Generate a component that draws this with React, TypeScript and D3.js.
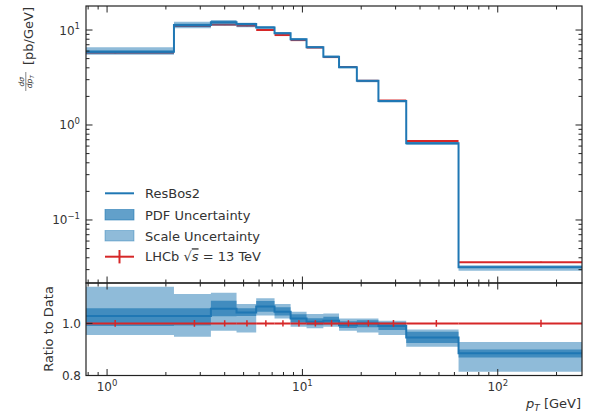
import React from "react";
import * as d3 from "d3";

// ---- data ----
const binEdges = [0, 2.2, 3.4, 4.6, 5.8, 7.2, 8.7, 10.5, 12.8, 15.4, 19.0, 24.5, 34.0, 63.0, 270.0];
const lhcbData = [5.76, 11.0, 11.4, 11.1, 10.0, 8.85, 7.83, 6.54, 5.19, 4.08, 2.92, 1.81, 0.679, 0.0359];
const lhcbRelErr = [0.013, 0.013, 0.012, 0.012, 0.012, 0.012, 0.012, 0.012, 0.012, 0.012, 0.012, 0.013, 0.013, 0.014];
const ratioCentral = [1.028, 1.028, 1.056, 1.042, 1.065, 1.045, 1.019, 1.006, 1.010, 0.993, 1.000, 0.990, 0.946, 0.885];
const pdfLo = [0.990, 0.992, 1.027, 1.028, 1.045, 1.030, 1.003, 0.993, 0.996, 0.982, 0.985, 0.975, 0.925, 0.869];
const pdfHi = [1.058, 1.058, 1.087, 1.058, 1.086, 1.062, 1.035, 1.020, 1.025, 1.008, 1.012, 1.003, 0.968, 0.900];
const scaleLo = [0.955, 0.949, 0.972, 0.965, 1.030, 1.019, 0.987, 0.981, 0.987, 0.972, 0.965, 0.955, 0.910, 0.814];
const scaleHi = [1.141, 1.113, 1.118, 1.074, 1.096, 1.074, 1.045, 1.036, 1.038, 1.019, 1.019, 1.010, 0.977, 0.929];

const xDomain = [0.78, 270];
const yTopDomain = [0.0217, 17.9];
const yRatioDomain = [0.8, 1.155];
const yTopMajor = [0.1, 1, 10];
const yTopMajorExp = ["\u22121", "0", "1"];
const xMajor = [1, 10, 100];
const xMajorExp = ["0", "1", "2"];
const yRatioMajor = [0.8, 1.0];
const yRatioLabels = ["0.8", "1.0"];

const legendItems = ["ResBos2", "PDF Uncertainty", "Scale Uncertainty"];

const BLUE = "#1f77b4";
const RED = "#d62728";
const AX = "#222";
const TXT = "#333";
const FONT = "DejaVu Sans, sans-serif";

export default function App() {
  const L = 86, R = 582, T1 = 6, B1 = 283, T2 = 283, B2 = 375.5;
  const x = d3.scaleLog().domain(xDomain).range([L, R]);
  const yT = d3.scaleLog().domain(yTopDomain).range([B1, T1]);
  const yR = d3.scaleLinear().domain(yRatioDomain).range([B2, T2]);
  const n = lhcbData.length;
  const edgeX = (e: number) => x(Math.max(e, xDomain[0] * 0.5));

  // step points
  const stepPts = (vals: number[]) => {
    const pts: [number, number][] = [];
    for (let i = 0; i < n; i++) pts.push([binEdges[i], vals[i]]);
    pts.push([binEdges[n], vals[n - 1]]);
    return pts;
  };
  const idx = d3.range(n + 1);
  const lineTop = (vals: number[]) =>
    d3.line<[number, number]>().x((d) => edgeX(d[0])).y((d) => yT(d[1])).curve(d3.curveStepAfter)(stepPts(vals)) || "";
  const lineRat = (vals: number[]) =>
    d3.line<[number, number]>().x((d) => edgeX(d[0])).y((d) => yR(d[1])).curve(d3.curveStepAfter)(stepPts(vals)) || "";
  const areaGen = (lo: number[], hi: number[], ys: (v: number) => number) =>
    d3
      .area<number>()
      .x((i) => edgeX(binEdges[i]))
      .y0((i) => ys(lo[Math.min(i, n - 1)]))
      .y1((i) => ys(hi[Math.min(i, n - 1)]))
      .curve(d3.curveStepAfter)(idx) || "";

  const theory = lhcbData.map((d, i) => d * ratioCentral[i]);
  const tPdfLo = lhcbData.map((d, i) => d * pdfLo[i]);
  const tPdfHi = lhcbData.map((d, i) => d * pdfHi[i]);
  const tScLo = lhcbData.map((d, i) => d * scaleLo[i]);
  const tScHi = lhcbData.map((d, i) => d * scaleHi[i]);
  const centers = d3.range(n).map((i) => (binEdges[i] + binEdges[i + 1]) / 2);

  // minor ticks
  const xMinor: number[] = [];
  for (let k = -1; k <= 2; k++) for (let m = 2; m <= 9; m++) {
    const v = m * Math.pow(10, k);
    if (v >= xDomain[0] && v <= xDomain[1]) xMinor.push(v);
  }
  const yMinor: number[] = [];
  for (let k = -2; k <= 1; k++) for (let m = 2; m <= 9; m++) {
    const v = m * Math.pow(10, k);
    if (v >= yTopDomain[0] && v <= yTopDomain[1]) yMinor.push(v);
  }
  const MAJ = 6.5, MIN = 3.5;

  return (
    <svg width={592} height={417} style={{ display: "block", position: "absolute", left: 0, top: 0 }} fontFamily={FONT}>
      <defs>
        <clipPath id="clipTop"><rect x={L} y={T1} width={R - L} height={B1 - T1} /></clipPath>
        <clipPath id="clipRat"><rect x={L} y={T2} width={R - L} height={B2 - T2} /></clipPath>
      </defs>

      {/* ---- top panel ---- */}
      <g clipPath="url(#clipTop)">
        {d3.range(n).map((i) => (
          <g key={"dt" + i} stroke={RED} strokeWidth={2}>
            <line x1={edgeX(binEdges[i])} x2={edgeX(binEdges[i + 1])} y1={yT(lhcbData[i])} y2={yT(lhcbData[i])} />
            <line x1={x(centers[i])} x2={x(centers[i])} y1={yT(lhcbData[i] * (1 - lhcbRelErr[i]))} y2={yT(lhcbData[i] * (1 + lhcbRelErr[i]))} />
          </g>
        ))}
        <path d={areaGen(tScLo, tScHi, yT)} fill={BLUE} fillOpacity={0.5} />
        <path d={areaGen(tPdfLo, tPdfHi, yT)} fill={BLUE} fillOpacity={0.7} />
        <path d={lineTop(theory)} fill="none" stroke={BLUE} strokeWidth={2} />
      </g>

      {/* ---- ratio panel ---- */}
      <g clipPath="url(#clipRat)">
        <path d={areaGen(scaleLo, scaleHi, yR)} fill={BLUE} fillOpacity={0.5} />
        <path d={areaGen(pdfLo, pdfHi, yR)} fill={BLUE} fillOpacity={0.7} />
        <path d={lineRat(ratioCentral)} fill="none" stroke={BLUE} strokeWidth={2} />
        {d3.range(n).map((i) => (
          <g key={"dr" + i} stroke={RED} strokeWidth={2}>
            <line x1={edgeX(binEdges[i])} x2={edgeX(binEdges[i + 1])} y1={yR(1)} y2={yR(1)} />
            <line x1={x(centers[i])} x2={x(centers[i])} y1={yR(1 - lhcbRelErr[i])} y2={yR(1 + lhcbRelErr[i])} strokeWidth={1.5} />
          </g>
        ))}
      </g>

      {/* ---- ticks ---- */}
      <g stroke={AX} strokeWidth={1}>
        {/* x ticks, both panels */}
        {xMajor.map((v) => (
          <g key={"xm" + v}>
            <line x1={x(v)} x2={x(v)} y1={T1} y2={T1 + MAJ} />
            <line x1={x(v)} x2={x(v)} y1={B1} y2={B1 - MAJ} />
            <line x1={x(v)} x2={x(v)} y1={T2} y2={T2 + MAJ} />
            <line x1={x(v)} x2={x(v)} y1={B2} y2={B2 - MAJ} />
          </g>
        ))}
        {xMinor.map((v) => (
          <g key={"xn" + v}>
            <line x1={x(v)} x2={x(v)} y1={T1} y2={T1 + MIN} />
            <line x1={x(v)} x2={x(v)} y1={B1} y2={B1 - MIN} />
            <line x1={x(v)} x2={x(v)} y1={T2} y2={T2 + MIN} />
            <line x1={x(v)} x2={x(v)} y1={B2} y2={B2 - MIN} />
          </g>
        ))}
        {yTopMajor.map((v) => (
          <g key={"ym" + v}>
            <line x1={L} x2={L + MAJ} y1={yT(v)} y2={yT(v)} />
            <line x1={R} x2={R - MAJ} y1={yT(v)} y2={yT(v)} />
          </g>
        ))}
        {yMinor.map((v) => (
          <g key={"yn" + v}>
            <line x1={L} x2={L + MIN} y1={yT(v)} y2={yT(v)} />
            <line x1={R} x2={R - MIN} y1={yT(v)} y2={yT(v)} />
          </g>
        ))}
        {yRatioMajor.map((v) => (
          <line key={"yr" + v} x1={L} x2={L + MAJ} y1={yR(v)} y2={yR(v)} />
        ))}
      </g>

      {/* ---- spines ---- */}
      <rect x={L} y={T1} width={R - L} height={B1 - T1} fill="none" stroke={AX} strokeWidth={1.2} />
      <rect x={L} y={T2} width={R - L} height={B2 - T2} fill="none" stroke={AX} strokeWidth={1.2} />

      {/* ---- tick labels ---- */}
      <g fill={TXT} fontSize={12}>
        {yTopMajor.map((v, i) => (
          <text key={"ytl" + v} x={80} y={yT(v) + 4.5} textAnchor="end">
            10<tspan fontSize={8.5} dy={-5.5}>{yTopMajorExp[i]}</tspan>
          </text>
        ))}
        {xMajor.map((v, i) => (
          <text key={"xtl" + v} x={x(v)} y={391} textAnchor="middle">
            10<tspan fontSize={8.5} dy={-5.5}>{xMajorExp[i]}</tspan>
          </text>
        ))}
        {yRatioMajor.map((v, i) => (
          <text key={"yrl" + v} x={81} y={yR(v) + 4.5} textAnchor="end">{yRatioLabels[i]}</text>
        ))}
      </g>

      {/* ---- axis labels ---- */}
      <g fill={TXT}>
        <g transform="translate(29,6) rotate(-90)">
          <text x={-1} y={3.5} fontSize={13} textAnchor="end">[pb/GeV]</text>
          <text x={-75.7} y={-4.6} fontSize={7.5} textAnchor="middle" fontStyle="italic">dσ</text>
          <line x1={-85} x2={-66} y1={-3.2} y2={-3.2} stroke={TXT} strokeWidth={0.6} />
          <text x={-75.7} y={3.4} fontSize={7.5} textAnchor="middle" fontStyle="italic">
            dp<tspan fontSize={5.5} dy={1.5}>T</tspan>
          </text>
        </g>
        <text transform="translate(53,329) rotate(-90)" fontSize={13} textAnchor="middle">Ratio to Data</text>
        <text x={581} y={408} fontSize={13} textAnchor="end">
          <tspan fontStyle="italic">p</tspan>
          <tspan fontSize={9} fontStyle="italic" dy={3}>T</tspan>
          <tspan dy={-3}> [GeV]</tspan>
        </text>
      </g>

      {/* ---- legend ---- */}
      <g fontSize={13} fill={TXT}>
        <line x1={105} x2={134} y1={193.3} y2={193.3} stroke={BLUE} strokeWidth={2} />
        <text x={145} y={198}>{legendItems[0]}</text>
        <rect x={105} y={209.5} width={29} height={10.5} fill={BLUE} fillOpacity={0.7} stroke={BLUE} strokeOpacity={0.7} strokeWidth={0.8} />
        <text x={145} y={219.5}>{legendItems[1]}</text>
        <rect x={105} y={230.5} width={29} height={10.5} fill={BLUE} fillOpacity={0.5} stroke={BLUE} strokeOpacity={0.5} strokeWidth={0.8} />
        <text x={145} y={240.5}>{legendItems[2]}</text>
        <line x1={105} x2={134} y1={256.7} y2={256.7} stroke={RED} strokeWidth={2} />
        <line x1={119.5} x2={119.5} y1={250} y2={263.4} stroke={RED} strokeWidth={2} />
        <text x={145} y={261.3}>
          LHCb √<tspan fontStyle="italic" textDecoration="overline" style={{ textDecoration: "overline" }}>s</tspan> = 13 TeV
        </text>
      </g>
    </svg>
  );
}
